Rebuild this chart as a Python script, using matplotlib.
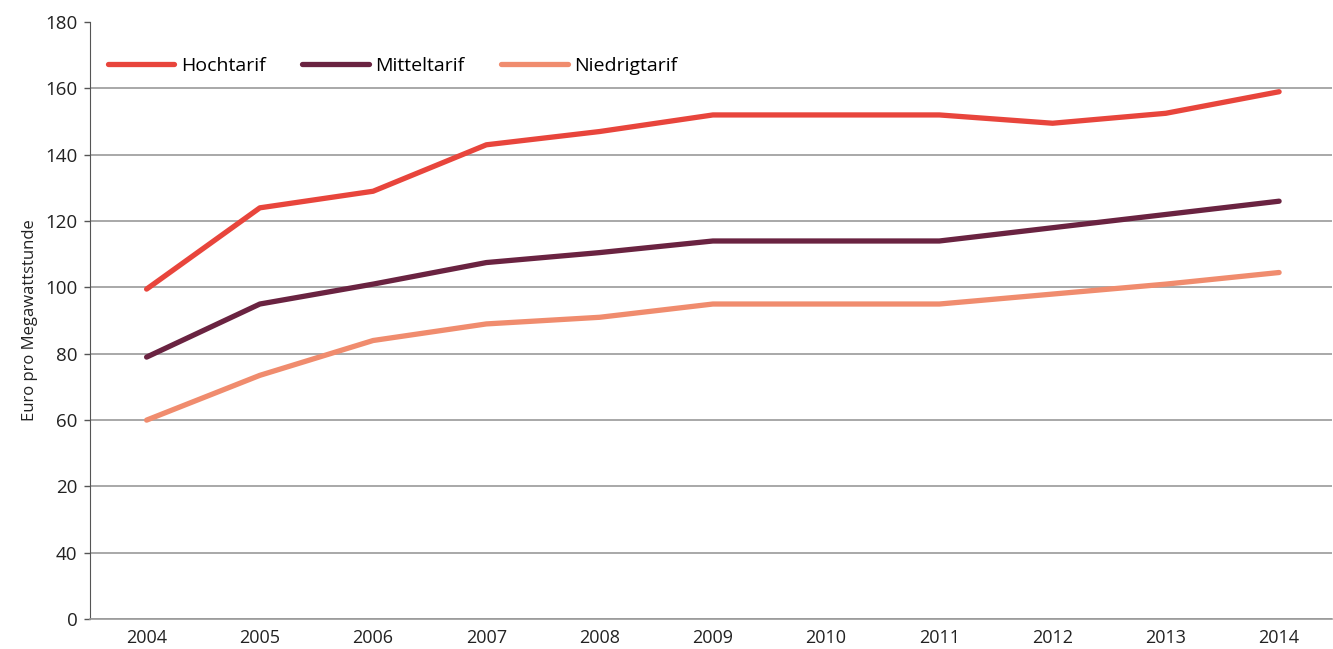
import matplotlib.pyplot as plt

plt.rcParams['font.family'] = ['Open Sans', 'DejaVu Sans']

jahre = [2004, 2005, 2006, 2007, 2008, 2009, 2010, 2011, 2012, 2013, 2014]
hochtarif = [99.5, 124, 129, 143, 147, 152, 152, 152, 149.5, 152.5, 159]
mitteltarif = [79, 95, 101, 107.5, 110.5, 114, 114, 114, 118, 122, 126]
niedrigtarif = [60, 73.5, 84, 89, 91, 95, 95, 95, 98, 101, 104.5]

y_ticks = [0, 20, 40, 60, 80, 100, 120, 140, 160, 180]
# Beschriftung wie im Original (20 und 40 vertauscht)
y_labels = ['0', '40', '20', '60', '80', '100', '120', '140', '160', '180']

fig = plt.figure(figsize=(13.33, 6.49), dpi=100)
ax = fig.add_axes([0.0675, 0.046, 0.932, 0.92])

ax.plot(jahre, hochtarif, color='#E8453C', lw=3.8, label='Hochtarif', solid_capstyle='round')
ax.plot(jahre, mitteltarif, color='#6A2341', lw=3.8, label='Mitteltarif', solid_capstyle='round')
ax.plot(jahre, niedrigtarif, color='#F08C6E', lw=3.8, label='Niedrigtarif', solid_capstyle='round')

ax.set_xlim(2003.5, 2014.47)
ax.set_ylim(0, 180)
ax.set_xticks(jahre)
ax.set_yticks(y_ticks)
ax.set_yticklabels(y_labels)
ax.tick_params(axis='x', length=0, pad=7, labelsize=13, colors='#222222')
ax.tick_params(axis='y', length=4, width=1, color='#555555', labelsize=13.5, colors='#222222', pad=5)

ax.grid(axis='y', color='#9a9a9a', lw=1.2)
ax.get_ygridlines()[-1].set_visible(False)
ax.set_axisbelow(True)

for s in ['top', 'right']:
    ax.spines[s].set_visible(False)
ax.spines['left'].set_color('#555555')
ax.spines['bottom'].set_color('#9a9a9a')
ax.spines['bottom'].set_linewidth(1.2)

ax.set_ylabel('Euro pro Megawattstunde', fontsize=12, color='#222222', labelpad=5)

ax.legend(loc='center left', ncol=3, frameon=False, fontsize=14,
          bbox_to_anchor=(0.0145, 0.926), borderpad=0, borderaxespad=0,
          handlelength=3.4, columnspacing=1.9, handletextpad=0.35)

fig.savefig('out.png', dpi=100)
